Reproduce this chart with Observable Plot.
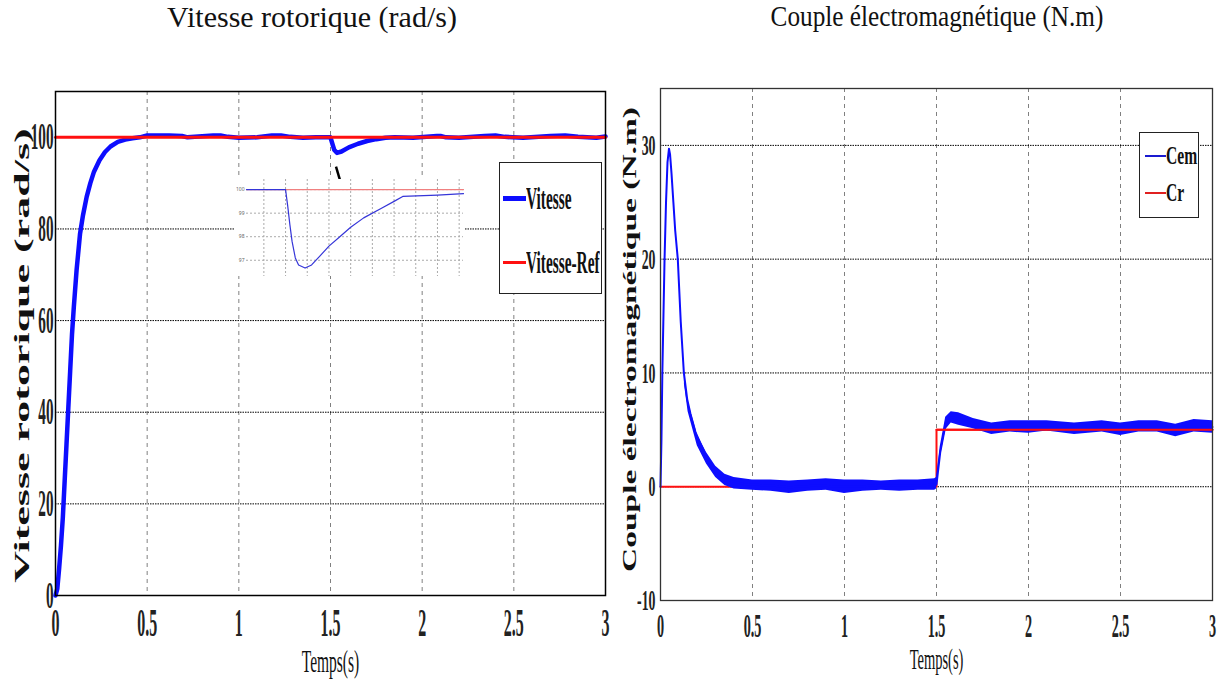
<!DOCTYPE html>
<html><head><meta charset="utf-8">
<script src="https://cdn.jsdelivr.net/npm/d3@7"></script>
<script src="https://cdn.jsdelivr.net/npm/@observablehq/plot@0.6"></script>
<style>
body{margin:0;background:#fff;}
#page{position:relative;width:1227px;height:686px;overflow:hidden;font-family:"Liberation Serif","Times New Roman",serif;color:#111;}
.abs{position:absolute;}
.title{position:absolute;top:2px;line-height:1;white-space:nowrap;text-align:center;}
.legend{position:absolute;border:1.3px solid #222;background:#fff;box-sizing:border-box;}
.swatch{position:absolute;}
.ltext{position:absolute;white-space:nowrap;transform-origin:0 50%;line-height:1;}
</style></head><body><div id="page">
<div class="title" style="left:112px;width:400px;font-size:30px;">Vitesse rotorique (rad/s)</div>
<div class="title" style="left:737px;width:400px;font-size:29px;transform:scaleX(0.87);">Couple électromagnétique (N.m)</div>
<div id="left" class="abs" style="left:0;top:60px;"></div>
<div id="right" class="abs" style="left:605px;top:60px;"></div>
<div id="inset" class="abs" style="left:234px;top:179px;"></div>
<div id="legL" class="legend" style="left:499px;top:162px;width:103px;height:132px;"></div>
<div id="legR" class="legend" style="left:1139px;top:132px;width:60px;height:86px;"></div>
</div>
<script>
// ---------- data ----------
const timeTicks = [0, 0.5, 1, 1.5, 2, 2.5, 3];
const speedTicks = [0, 20, 40, 60, 80, 100];
const torqueTicks = [-10, 0, 10, 20, 30];

// Vitesse (rad/s)
const speedT = [0,0.01,0.02,0.03,0.04,0.05,0.06,0.07,0.08,0.09,0.1,0.115,0.134,0.15,0.17,0.19,0.21,0.24,0.27,0.3,0.34,0.38,0.42,0.46,
  0.5,0.55,0.62,0.69,0.72,0.86,0.9,0.94,1.0,1.1,1.18,1.23,1.28,1.35,1.42,1.5,1.51,1.52,1.535,1.56,1.6,1.65,1.7,1.75,1.8,1.85,
  1.95,2.08,2.1,2.13,2.2,2.34,2.4,2.45,2.55,2.7,2.78,2.85,2.95,3.0];
const speedV = [0,1.5,6,11,17,25,33,41,49,57,63,71,79,83,87,90,92.5,95,96.8,98,99,99.5,99.8,100,
  100.4,100.4,100.4,100.3,100,100.4,100.4,100.1,99.9,100,100.4,100.4,100.1,99.9,100,100,98.6,97.3,96.6,96.9,97.8,98.6,99.2,99.6,99.9,100,
  99.9,100.3,100.3,100,99.9,100.3,100.4,100.1,99.9,100.3,100.4,100.1,99.9,100.2];
const speedRefT = [0, 3];
const speedRefV = [100, 100];

// Zoom (encart) sur la perturbation de vitesse
const insetT = [1.32,1.5,1.51,1.52,1.53,1.545,1.56,1.59,1.62,1.66,1.7,1.75,1.8,1.86,1.94,2.0,2.04,2.2,2.32];
const insetV = [100,100,99.3,98.5,97.8,97.1,96.8,96.67,96.8,97.2,97.6,98.0,98.4,98.8,99.2,99.5,99.71,99.77,99.83];
const insetRefT = [1.32, 2.32];
const insetRefV = [100, 100];
const insetTicksY = [97, 98, 99, 100];
const insetTicksX = [1.4,1.5,1.6,1.7,1.8,1.9,2.0,2.1,2.2,2.3];

// Couple Cem (N.m)
const cemT = [0,0.005,0.01,0.016,0.022,0.03,0.038,0.046,0.052,0.06,0.07,0.08,0.094,0.11,0.127,0.145,0.163,0.19,0.228,0.26,0.29,0.33,0.39,0.45,
  0.6,0.7,0.85,1.0,1.2,1.4,1.5,1.52,1.55,1.58,1.62,1.7,1.8,2.0,2.25,2.5,2.8,3.0];
const cemV = [0,4,10,15,20,25,28.5,29.7,29.2,27.5,25,22.5,20,14.5,10,7.7,6.4,4.8,3.4,2.3,1.4,0.9,0.5,0.25,
  0.1,-0.05,0.1,0,0.1,0.1,0.2,3,5.5,6.1,5.95,5.55,5.1,5.25,5.1,5.05,5.0,5.25];
// bande d'ondulation de Cem
const bandT  = [0.13,0.15,0.2,0.25,0.3,0.35,0.4,0.5,0.6,0.7,0.8,0.9,1.0,1.1,1.2,1.3,1.4,1.49,1.5,1.52,1.55,1.58,1.62,1.7,1.8,1.9,2.0,2.1,2.25,2.4,2.5,2.6,2.7,2.8,2.9,3.0];
const bandLo = [9.0,6.6,3.6,2.0,0.8,0.1,-0.2,-0.3,-0.4,-0.6,-0.4,-0.3,-0.6,-0.4,-0.3,-0.4,-0.3,-0.3,-0.2,2.5,5.0,5.6,5.4,5.1,4.6,4.8,4.7,4.9,4.6,4.8,4.5,4.8,4.8,4.4,4.8,4.7];
const bandHi = [9.8,7.5,4.6,3.0,1.8,1.1,0.8,0.6,0.6,0.5,0.6,0.7,0.6,0.6,0.5,0.6,0.6,0.7,0.8,3.5,6.1,6.6,6.5,6.0,5.6,5.8,5.8,5.8,5.6,5.8,5.6,5.8,5.8,5.5,5.9,5.8];
// Couple de charge Cr
const crT = [0, 1.5, 1.5, 3];
const crV = [0, 0, 5, 5];

// petit trait pointant vers l'encart
const pointer = [{x1: 1.53, y1: 93.6, x2: 1.555, y2: 90.2}];

// ---------- helpers ----------
const zip = (xs, ys, kx="t", ky="v") => xs.map((x, i) => ({[kx]: x, [ky]: ys[i]}));
const BLUE = "#0d0dff", RED = "#ff1010";
function squash(svg, selector, sx) {
  d3.select(svg).selectAll(selector).each(function() {
    const t = this.getAttribute("transform") || "";
    this.setAttribute("transform", t + ` scale(${sx},1)`);
  });
}
function squashText(svg, map) {
  d3.select(svg).selectAll('g[aria-label="text"] text').each(function() {
    for (const [prefix, sx] of map) if (this.textContent.startsWith(prefix)) {
      this.setAttribute("transform", (this.getAttribute("transform") || "") + ` scale(${sx},1)`);
    }
  });
}
const tickFont = {fontFamily: "Liberation Serif", fontWeight: "bold"};

// ---------- left plot ----------
const left = Plot.plot({
  width: 615, height: 620, marginLeft: 55, marginRight: 10, marginTop: 31, marginBottom: 85,
  x: {domain: [0, 3]}, y: {domain: [0, 110]},
  style: {background: "transparent", color: "#111"},
  marks: [
    Plot.gridX(timeTicks.slice(1, -1), {stroke: "#808080", strokeOpacity: 1, strokeDasharray: "4,4"}),
    Plot.gridY(speedTicks.slice(1, -1), {stroke: "#000", strokeOpacity: 1, strokeDasharray: "1.5,1"}),
    Plot.line(zip(speedT, speedV), {x: "t", y: "v", stroke: BLUE, strokeWidth: 4.5}),
    Plot.line(zip(speedRefT, speedRefV), {x: "t", y: "v", stroke: RED, strokeWidth: 3}),
    Plot.link(pointer, {x1: "x1", y1: "y1", x2: "x2", y2: "y2", stroke: "#000", strokeWidth: 2.5}),
    Plot.frame({stroke: "#000", strokeWidth: 1.5}),
    Plot.axisX(timeTicks, {tickSize: 0, tickPadding: 13, tickFormat: d => String(d), fontSize: 39, ...tickFont, fill: "#222", label: null}),
    Plot.axisY(speedTicks, {tickSize: 0, tickPadding: 2, tickFormat: d => String(d), fontSize: 38, ...tickFont, fill: "#222", label: null}),
    Plot.text(["Temps(s)"], {frameAnchor: "bottom", dy: 76, fontSize: 31, fontFamily: "Liberation Serif", fill: "#111"}),
    Plot.text(["Vitesse rotorique (rad/s)"], {frameAnchor: "left", textAnchor: "middle", rotate: -90, dx: -33, dy: 12, fontSize: 20, fontWeight: "bold", fontFamily: "Liberation Serif", fill: "#111"})
  ]
});
document.getElementById("left").appendChild(left);
squash(left, 'g[aria-label="x-axis tick label"] text', 0.41);
squash(left, 'g[aria-label="y-axis tick label"] text', 0.4);
squashText(left, [["Temps", 0.5], ["Vitesse", 2.2]]);

// ---------- right plot ----------
const right = Plot.plot({
  width: 622, height: 620, marginLeft: 55, marginRight: 15, marginTop: 28, marginBottom: 80,
  x: {domain: [0, 3]}, y: {domain: [-10, 35]},
  style: {background: "transparent", color: "#111"},
  marks: [
    Plot.gridX(timeTicks.slice(1, -1), {stroke: "#808080", strokeOpacity: 1, strokeDasharray: "4,4"}),
    Plot.gridY(torqueTicks.slice(1), {stroke: "#000", strokeOpacity: 1, strokeDasharray: "1.5,1"}),
    Plot.line(zip(crT, crV), {x: "t", y: "v", stroke: RED, strokeWidth: 2}),
    Plot.areaY(bandT.map((t, i) => ({t, lo: bandLo[i], hi: bandHi[i]})), {x: "t", y1: "lo", y2: "hi", fill: BLUE}),
    Plot.line(zip(cemT, cemV), {x: "t", y: "v", stroke: BLUE, strokeWidth: 2}),
    Plot.line(zip(crT, crV), {x: "t", y: "v", filter: d => d.v > 0, stroke: RED, strokeWidth: 2}),
    Plot.frame({stroke: "#333", strokeWidth: 1.3}),
    Plot.axisX(timeTicks, {tickSize: 0, tickPadding: 13, tickFormat: d => String(d), fontSize: 33, ...tickFont, fill: "#222", label: null}),
    Plot.axisY(torqueTicks, {tickSize: 0, tickPadding: 5, tickFormat: d => String(d), fontSize: 30, ...tickFont, fill: "#222", label: null}),
    Plot.text(["Temps(s)"], {frameAnchor: "bottom", dy: 68, fontSize: 29, fontFamily: "Liberation Serif", fill: "#111"}),
    Plot.text(["Couple électromagnétique (N.m)"], {frameAnchor: "left", textAnchor: "middle", rotate: -90, dx: -30, dy: -5, fontSize: 18, fontWeight: "bold", fontFamily: "Liberation Serif", fill: "#111"})
  ]
});
document.getElementById("right").appendChild(right);
squash(right, 'g[aria-label="x-axis tick label"] text', 0.43);
squash(right, 'g[aria-label="y-axis tick label"] text', 0.46);
squashText(right, [["Temps", 0.5], ["Couple", 1.86]]);

// ---------- inset ----------
const inset = Plot.plot({
  width: 230, height: 97, marginLeft: 12, marginRight: 1, marginTop: 0, marginBottom: 0,
  x: {domain: [1.32, 2.32]}, y: {domain: [96.31, 100.43]},
  style: {background: "#fff", color: "#555"},
  marks: [
    Plot.gridX(insetTicksX, {stroke: "#aaa", strokeOpacity: 1, strokeDasharray: "2,2"}),
    Plot.gridY(insetTicksY, {stroke: "#aaa", strokeOpacity: 1, strokeDasharray: "2,2"}),
    Plot.line(zip(insetRefT, insetRefV), {x: "t", y: "v", stroke: "#f08080", strokeWidth: 1.2}),
    Plot.line(zip(insetT, insetV), {x: "t", y: "v", stroke: "#3535d8", strokeWidth: 1.2}),
    Plot.axisY(insetTicksY, {tickSize: 0, tickPadding: 2, fontSize: 5, label: null, fill: "#666"}),
    Plot.axisX([], {label: null})
  ]
});
document.getElementById("inset").appendChild(inset);

// ---------- legends ----------
function legend(el, items) {
  for (const it of items) {
    const s = document.createElement("div");
    s.className = "swatch";
    Object.assign(s.style, {left: it.sx + "px", top: (it.y - it.w / 2) + "px", width: it.len + "px", height: it.w + "px", background: it.color});
    el.appendChild(s);
    const t = document.createElement("div");
    t.className = "ltext";
    t.textContent = it.label;
    Object.assign(t.style, {left: it.tx + "px", top: (it.y - it.fs / 2) + "px", fontSize: it.fs + "px", transform: `scaleX(${it.k})`, fontWeight: "bold"});
    el.appendChild(t);
  }
}
legend(document.getElementById("legL"), [
  {label: "Vitesse", color: BLUE, sx: 3, len: 23, w: 5, y: 35, tx: 26, fs: 32, k: 0.48},
  {label: "Vitesse-Ref", color: RED, sx: 3, len: 23, w: 3, y: 99, tx: 26, fs: 32, k: 0.48}
]);
legend(document.getElementById("legR"), [
  {label: "Cem", color: "#1a1ad0", sx: 5, len: 21, w: 2, y: 23, tx: 26, fs: 26, k: 0.6},
  {label: "Cr", color: "#e02020", sx: 5, len: 21, w: 2, y: 60, tx: 26, fs: 26, k: 0.6}
]);
</script></body></html>
